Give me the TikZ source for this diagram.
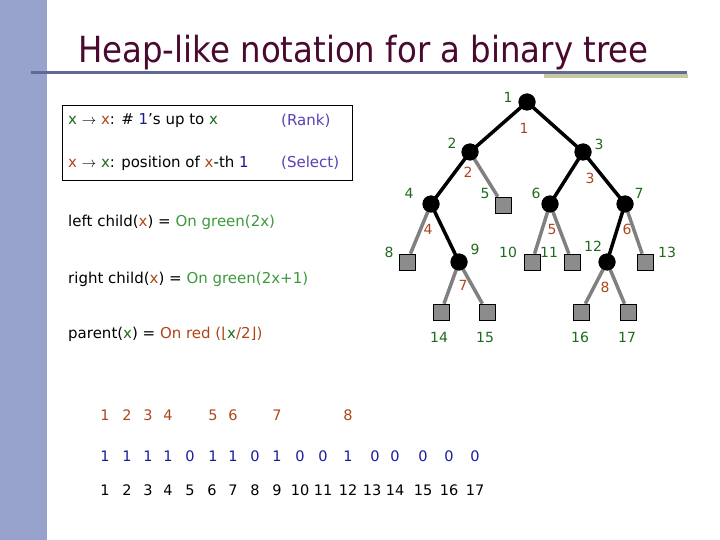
\documentclass[tikz,border=0pt]{standalone}
\usepackage{fontspec}
\usepackage{graphicx}
\setmainfont{DejaVu Sans}
\definecolor{barc}{HTML}{97A3CD}
\definecolor{linec}{HTML}{5F6A96}
\definecolor{khaki}{HTML}{C8C8A0}
\definecolor{titlec}{HTML}{4A0A30}
\definecolor{gx}{HTML}{1E6B1E}
\definecolor{rx}{HTML}{B0441C}
\definecolor{bx}{HTML}{1A1A8C}
\definecolor{px}{HTML}{5B3FB5}
\definecolor{lg}{HTML}{3C9A3C}
\definecolor{nb}{HTML}{1A1AA0}
\begin{document}
\begin{tikzpicture}[x=1pt,y=-1pt,
  inner/.style={circle,fill=black,minimum size=17pt,inner sep=0pt},
  leaf/.style={rectangle,fill=gray!90,draw=black,line width=0.6pt,minimum size=16pt,inner sep=0pt},
  bedge/.style={line width=3.5pt,black},
  gedge/.style={line width=3.5pt,gray},
  gl/.style={text=gx,font=\fontsize{14}{16}\selectfont,inner sep=0pt},
  rl/.style={text=rx,font=\fontsize{14}{16}\selectfont,inner sep=0pt},
  txt/.style={anchor=west,inner sep=0pt,font=\fontsize{15}{17}\selectfont},
  num/.style={inner sep=0pt,font=\fontsize{14.5}{16}\selectfont}]
\useasboundingbox (0,0) rectangle (720,540);
\fill[barc] (0,0) rectangle (47,540);
\node[anchor=base west,inner sep=0pt,text=titlec,font=\fontsize{36}{40}\selectfont] (title) at (78,63) {\scalebox{0.9}[1]{Heap-like notation for a binary tree}};
\fill[khaki] (544,74) rectangle (688,78);
\fill[linec] (31,71.5) rectangle (687,74.5);
% box
\node[draw=black,line width=0.8pt,minimum width=290pt,minimum height=75pt,anchor=north west] (box) at (62,105) {};
\node[txt] (r1) at (68,121) {\textcolor{gx}{x} $\rightarrow$ \textcolor{rx}{x}: \# \textcolor{bx}{1}’s up to \textcolor{gx}{x}};
\node[txt,text=px] (rank) at (281,121) {(Rank)};
\node[txt] (r2) at (68,163) {\textcolor{rx}{x} $\rightarrow$ \textcolor{gx}{x}: position of \textcolor{rx}{x}-th \textcolor{bx}{1}};
\node[txt,text=px] (sel) at (281,163) {(Select)};
\node[txt] (lc) at (68,222) {left child(\textcolor{rx}{x}) = \textcolor{lg}{On green(2x)}};
\node[txt] (rc) at (68,279) {right child(\textcolor{rx}{x}) = \textcolor{lg}{On green(2x+1)}};
\node[txt] (pa) at (68,334) {parent(\textcolor{gx}{x}) = \textcolor{rx}{On red (⌊\textcolor{gx}{x}/2⌋)}};
% tree
\node[inner] (n1) at (527,102) {};
\node[inner] (n2) at (470,152) {};
\node[inner] (n3) at (583,152) {};
\node[inner] (n4) at (431,204) {};
\node[leaf] (n5) at (503,205) {};
\node[inner] (n6) at (550,204) {};
\node[inner] (n7) at (625,204) {};
\node[leaf] (n8) at (407,262) {};
\node[inner] (n9) at (459,262) {};
\node[leaf] (n10) at (532,262) {};
\node[leaf] (n11) at (572,262) {};
\node[inner] (n12) at (607,262) {};
\node[leaf] (n13) at (645,262) {};
\node[leaf] (n14) at (441,312) {};
\node[leaf] (n15) at (487,312) {};
\node[leaf] (n16) at (581,312) {};
\node[leaf] (n17) at (628,312) {};
\draw[bedge] (n1.center)--(n2.center) (n1.center)--(n3.center) (n2.center)--(n4.center)
  (n3.center)--(n6.center) (n3.center)--(n7.center) (n4.center)--(n9.center) (n7.center)--(n12.center);
\draw[gedge] (n2.center)--(n5) (n4.center)--(n8) (n6.center)--(n10) (n6.center)--(n11)
  (n7.center)--(n13) (n9.center)--(n14) (n9.center)--(n15) (n12.center)--(n16) (n12.center)--(n17);
\foreach \p in {{527,102},{470,152},{583,152},{431,204},{550,204},{625,204},{459,262},{607,262}}
  \node[inner] at (\p) {};
\foreach \p in {{503,205},{407,262},{532,262},{572,262},{645,262},{441,312},{487,312},{581,312},{628,312}}
  \node[leaf] at (\p) {};
\node[gl] (g1) at (508,97) {1};
\node[gl] (g2) at (452,143) {2};
\node[gl] (g3) at (599,144) {3};
\node[gl] (g4) at (409,193) {4};
\node[gl] (g5) at (485,193) {5};
\node[gl] (g6) at (536,193) {6};
\node[gl] (g7) at (639,193) {7};
\node[gl] (g8) at (389,252) {8};
\node[gl] (g9) at (475,249) {9};
\node[gl] (g10) at (508,252) {10};
\node[gl] (g11) at (549,252) {11};
\node[gl] (g12) at (593,246) {12};
\node[gl] (g13) at (667,252) {13};
\node[gl] (g14) at (439,337) {14};
\node[gl] (g15) at (485,337) {15};
\node[gl] (g16) at (580,337) {16};
\node[gl] (g17) at (627,337) {17};
\node[rl] (q1) at (524,128) {1};
\node[rl] (q2) at (468,172) {2};
\node[rl] (q3) at (590,178) {3};
\node[rl] (q4) at (428,229) {4};
\node[rl] (q5) at (552,229) {5};
\node[rl] (q6) at (627,229) {6};
\node[rl] (q7) at (463,285) {7};
\node[rl] (q8) at (605,287) {8};
% bottom rows
\foreach \v/\x in {1/105,2/127,3/148,4/168,5/213,6/233,7/277,8/348}
  \node[num,text=rx] (a\v) at (\x,415) {\v};
\foreach \v/\x [count=\i] in {1/105,1/127,1/148,1/168,0/190,1/213,1/233,0/255,1/277,0/300,0/323,1/348,0/375,0/395,0/423,0/449,0/475}
  \node[num,text=nb] (b\i) at (\x,456) {\v};
\foreach \x [count=\i] in {105,127,148,168,190,212,233,255,277,300,323,348,372,395,423,449,475}
  \node[num] (c\i) at (\x,490) {\i};
\end{tikzpicture}
\end{document}
